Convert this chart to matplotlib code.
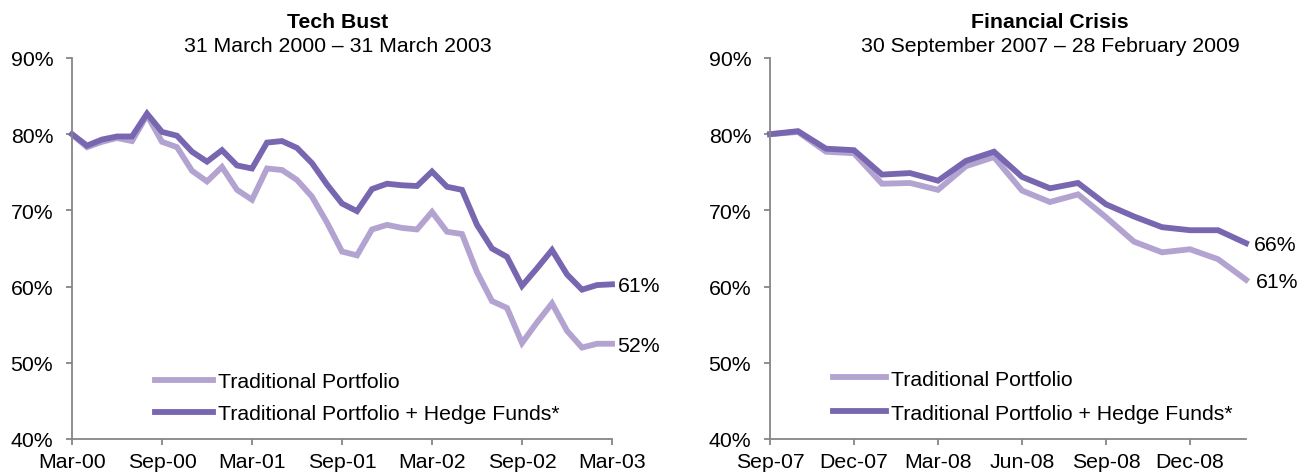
import matplotlib
matplotlib.use("Agg")
import matplotlib.pyplot as plt
import numpy as np

plt.rcParams['font.family'] = ['Liberation Sans', 'DejaVu Sans']

# ---- Tech Bust data (monthly, Mar-00 .. Mar-03) ----
tech_trad = [80.0, 78.3, 79.0, 79.5, 79.1, 82.5, 79.0, 78.3, 75.2, 73.8,
             75.7, 72.7, 71.4, 75.5, 75.3, 74.0, 71.8, 68.4, 64.6, 64.1,
             67.5, 68.1, 67.7, 67.5, 69.8, 67.2, 66.9, 61.9, 58.1, 57.2,
             52.6, 55.3, 57.8, 54.2, 52.0, 52.5, 52.5]
tech_hf = [80.0, 78.5, 79.3, 79.7, 79.7, 82.7, 80.3, 79.8, 77.7, 76.4,
           77.9, 75.9, 75.5, 78.9, 79.1, 78.2, 76.2, 73.4, 70.9, 69.9,
           72.8, 73.5, 73.3, 73.2, 75.1, 73.1, 72.7, 68.1, 65.0, 63.9,
           60.1, 62.4, 64.8, 61.6, 59.6, 60.2, 60.3]
tech_ticks = ["Mar-00", "Sep-00", "Mar-01", "Sep-01", "Mar-02", "Sep-02", "Mar-03"]

# ---- Financial Crisis data (monthly, Sep-07 .. Feb-09) ----
fin_trad = [80.0, 80.3, 77.7, 77.5, 73.5, 73.6, 72.7, 75.8, 77.0,
            72.6, 71.1, 72.1, 69.1, 65.9, 64.5, 64.9, 63.6, 60.9]
fin_hf = [80.0, 80.4, 78.1, 77.9, 74.7, 74.9, 73.9, 76.5, 77.7,
          74.4, 72.9, 73.6, 70.8, 69.2, 67.8, 67.4, 67.4, 65.7]
fin_ticks = ["Sep-07", "Dec-07", "Mar-08", "Jun-08", "Sep-08", "Dec-08"]

yticks = [40, 50, 60, 70, 80, 90]
series_labels = ["Traditional Portfolio", "Traditional Portfolio + Hedge Funds*"]
end_labels_tech = ["52%", "61%"]
end_labels_fin = ["61%", "66%"]

LIGHT = "#B3A3D1"
DARK = "#7867B0"
AX = "#868686"
FS = 15.3

W, H = 1315, 477
fig = plt.figure(figsize=(W / 100, H / 100), dpi=100)

def px_axes(x0, x1, ytop, ybot):
    return fig.add_axes([x0 / W, (H - ybot) / H, (x1 - x0) / W, (ybot - ytop) / H])

def style(ax, n, tick_step, ticklabels):
    x = np.arange(n)
    ax.set_xlim(0, n - 1)
    ax.set_ylim(40, 90)
    ax.set_yticks(yticks)
    ax.set_yticklabels([f"{v}%" for v in yticks])
    ax.set_xticks(np.arange(0, n, tick_step)[:len(ticklabels)])
    ax.set_xticklabels(ticklabels)
    for s in ["top", "right"]:
        ax.spines[s].set_visible(False)
    for s in ["left", "bottom"]:
        ax.spines[s].set_color(AX)
        ax.spines[s].set_linewidth(1.3)
    ax.tick_params(axis="both", colors=AX, labelcolor="black", labelsize=FS,
                   direction="out", length=4.5, width=1.3)
    ax.tick_params(axis="y", pad=9)
    ax.tick_params(axis="x", pad=5)
    return x

# Left chart
axL = px_axes(72, 612, 59, 440)
x = style(axL, len(tech_hf), 6, tech_ticks)
l1, = axL.plot(x, tech_trad, color=LIGHT, lw=4.2, solid_joinstyle="miter", clip_on=False)
l2, = axL.plot(x, tech_hf, color=DARK, lw=4.2, solid_joinstyle="miter", clip_on=False)
axL.annotate(end_labels_tech[0], (x[-1], tech_trad[-1]), xytext=(4, -1),
             textcoords="offset points", va="center", ha="left", fontsize=FS)
axL.annotate(end_labels_tech[1], (x[-1], tech_hf[-1]), xytext=(4, -1),
             textcoords="offset points", va="center", ha="left", fontsize=FS)
axL.legend([l1, l2], series_labels, loc="upper left", bbox_to_anchor=(0.154, 0.176),
           frameon=False, fontsize=FS, handlelength=2.7, handletextpad=0.25,
           labelspacing=0.62, borderpad=0, borderaxespad=0)

# Right chart
axR = px_axes(770, 1246, 59, 440)
x2 = style(axR, len(fin_hf), 3, fin_ticks)
r1, = axR.plot(x2, fin_trad, color=LIGHT, lw=4.2, solid_joinstyle="miter", clip_on=False)
r2, = axR.plot(x2, fin_hf, color=DARK, lw=4.2, solid_joinstyle="miter", clip_on=False)
axR.annotate(end_labels_fin[0], (x2[-1], fin_trad[-1]), xytext=(7, -1),
             textcoords="offset points", va="center", ha="left", fontsize=FS)
axR.annotate(end_labels_fin[1], (x2[-1], fin_hf[-1]), xytext=(6, -1),
             textcoords="offset points", va="center", ha="left", fontsize=FS)
axR.legend([r1, r2], series_labels, loc="upper left", bbox_to_anchor=(0.132, 0.182),
           frameon=False, fontsize=FS, handlelength=2.5, handletextpad=0.25,
           labelspacing=0.7, borderpad=0, borderaxespad=0)

# Titles
fig.text(338 / W, 1 - 22 / H, "Tech Bust", ha="center", va="center",
         fontsize=FS, fontweight="bold")
fig.text(338 / W, 1 - 46 / H, "31 March 2000 \u2013 31 March 2003", ha="center",
         va="center", fontsize=FS)
fig.text(1050 / W, 1 - 22 / H, "Financial Crisis", ha="center", va="center",
         fontsize=FS, fontweight="bold")
fig.text(1050 / W, 1 - 46 / H, "30 September 2007 \u2013 28 February 2009", ha="center",
         va="center", fontsize=FS)

fig.savefig("out.png", dpi=100)
